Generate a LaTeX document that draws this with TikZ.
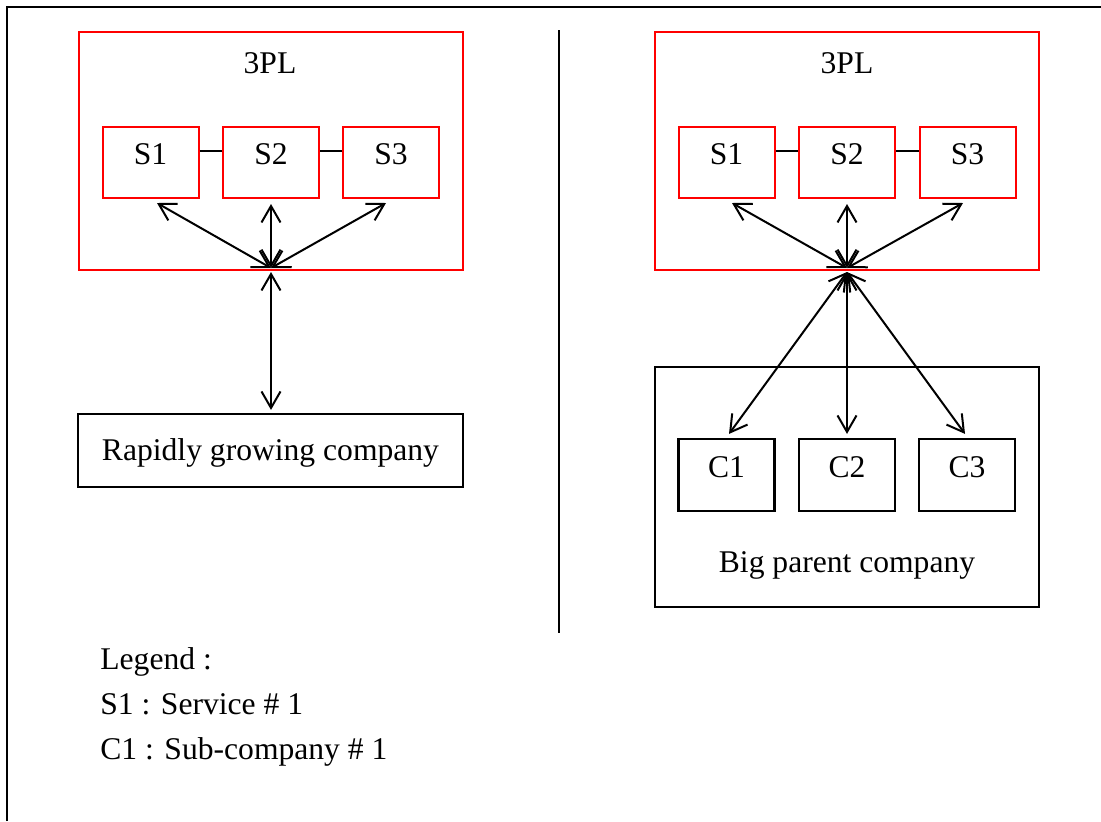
\documentclass[tikz,border=0pt]{standalone}
\usepackage{fontspec}
\setmainfont{Liberation Serif}
\usetikzlibrary{arrows.meta}
\begin{document}
\begin{tikzpicture}[x=0.5pt,y=-0.5pt,
  font=\fontsize{15.8pt}{18pt}\selectfont,
  redbox/.style={draw=red, line width=1pt, inner sep=0pt},
  blackbox/.style={draw=black, line width=1.1pt, inner sep=0pt},
  svc/.style={redbox, minimum width=48pt, minimum height=35.5pt, text height=10.4pt, text depth=8pt},
  sub/.style={blackbox, minimum width=48pt, minimum height=36pt, text height=10.4pt, text depth=8pt},
  link/.style={line width=1pt, {Straight Barb[angle=60:9.5pt]}-{Straight Barb[angle=60:9.5pt]}},
  plainline/.style={line width=1pt},
  txt/.style={inner sep=0pt, anchor=base}
]
\useasboundingbox (0,0) rectangle (1101,821);

% page frame (left and top edges) and the separator
\draw[line width=1.1pt] (7,821) -- (7,7) -- (1101,7);
\draw[line width=1.1pt] (559,30) -- (559,633);

% ---------- left: rapidly growing company ----------
\node[redbox, minimum width=192pt, minimum height=119pt] (tplL) at (271,151) {};
\node[txt] (tplLt) at (270,73) {3PL};
\node[svc] (s1L) at (150.5,162.5) {S1};
\node[svc] (s2L) at (271,162.5) {S2};
\node[svc] (s3L) at (391,162.5) {S3};
\draw[plainline] ([yshift=5.75pt]s1L.east) -- ([yshift=5.75pt]s2L.west);
\draw[plainline] ([yshift=5.75pt]s2L.east) -- ([yshift=5.75pt]s3L.west);
\coordinate (hubL) at (271,268);
\coordinate (hubLb) at (271,272);
\draw[link] ([xshift=3.25pt,yshift=-2pt]s1L.south) -- (hubL);
\draw[link] ([yshift=-2.5pt]s2L.south) -- (hubL);
\draw[link] ([xshift=-2.5pt,yshift=-2pt]s3L.south) -- (hubL);

\node[blackbox, minimum width=192.5pt, minimum height=36.5pt, text height=10.4pt, text depth=0pt] (rg) at (270.5,450.5) {Rapidly growing company};
\draw[link] (hubLb) -- ([yshift=1.5pt]rg.north -| hubLb);

% ---------- right: big parent company ----------
\node[redbox, minimum width=192pt, minimum height=119pt] (tplR) at (847,151) {};
\node[txt] (tplRt) at (847,73) {3PL};
\node[svc] (s1R) at (726.5,162.5) {S1};
\node[svc] (s2R) at (847,162.5) {S2};
\node[svc] (s3R) at (967.5,162.5) {S3};
\draw[plainline] ([yshift=5.75pt]s1R.east) -- ([yshift=5.75pt]s2R.west);
\draw[plainline] ([yshift=5.75pt]s2R.east) -- ([yshift=5.75pt]s3R.west);
\coordinate (hubR) at (847,268);
\coordinate (hubRb) at (847,272);
\draw[link] ([xshift=2.75pt,yshift=-2pt]s1R.south) -- (hubR);
\draw[link] ([yshift=-2.5pt]s2R.south) -- (hubR);
\draw[link] ([xshift=-2.25pt,yshift=-2pt]s3R.south) -- (hubR);

\node[blackbox, minimum width=192pt, minimum height=120pt] (bp) at (847,487) {};
\node[txt] (bpt) at (847,572) {Big parent company};
\node[sub] (c1) at (726.5,475) {C1};
\node[sub] (c2) at (847,475) {C2};
\node[sub] (c3) at (967,475) {C3};
\draw[link] (hubRb) -- ([xshift=1.25pt,yshift=2pt]c1.north);
\draw[link] (hubRb) -- ([yshift=2pt]c2.north);
\draw[link] (hubRb) -- ([xshift=-1pt,yshift=2pt]c3.north);

% ---------- legend ----------
\node[txt, anchor=base west] (lg0) at (100,669) {Legend :};
\node[txt, anchor=base west] (lg1) at (100,714) {S1 : Service \# 1};
\node[txt, anchor=base west] (lg2) at (100,759) {C1 : Sub-company \# 1};
\end{tikzpicture}
\end{document}
